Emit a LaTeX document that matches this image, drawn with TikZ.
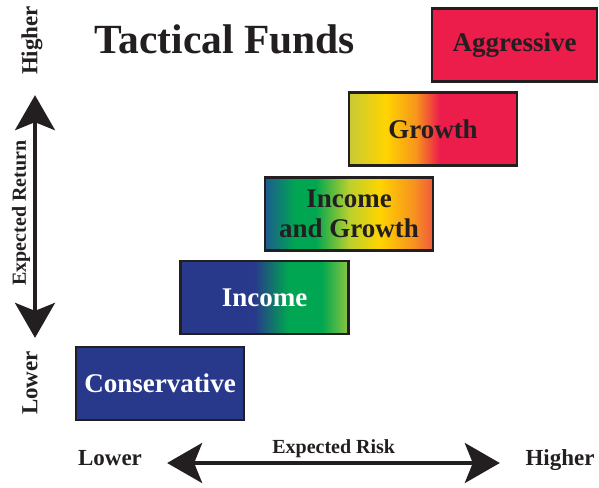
\documentclass[tikz,border=0pt]{standalone}
\usepackage{fontspec}
\setmainfont{Liberation Serif}
\usepackage{tikz}
\usetikzlibrary{positioning, arrows.meta}

\definecolor{ink}{HTML}{231F20}
\definecolor{consblue}{RGB}{40,57,140}
\definecolor{fundteal}{RGB}{28,92,142}
\definecolor{fundgreen}{RGB}{0,166,81}
\definecolor{limegreen}{RGB}{140,198,62}
\definecolor{yellowgreen}{RGB}{185,208,45}
\definecolor{oldgold}{RGB}{200,202,52}
\definecolor{fundyellow}{RGB}{255,212,0}
\definecolor{fundorange}{RGB}{247,148,29}
\definecolor{redorange}{RGB}{241,90,60}
\definecolor{crimson}{RGB}{236,28,75}

% horizontal shadings, the box spans 25bp to 75bp
\pgfdeclarehorizontalshading{incomeshade}{100bp}{color(0bp)=(consblue); color(25bp)=(consblue);
  color(47bp)=(consblue); color(57bp)=(fundgreen); color(67bp)=(fundgreen);
  color(75bp)=(limegreen); color(100bp)=(limegreen)}
\pgfdeclarehorizontalshading{mixshade}{100bp}{color(0bp)=(fundteal); color(25bp)=(fundteal);
  color(34bp)=(fundgreen); color(40bp)=(fundgreen); color(50bp)=(yellowgreen);
  color(59bp)=(fundyellow); color(69bp)=(fundorange); color(75bp)=(redorange); color(100bp)=(redorange)}
\pgfdeclarehorizontalshading{growthshade}{100bp}{color(0bp)=(oldgold); color(25bp)=(oldgold);
  color(36bp)=(fundyellow); color(45bp)=(fundorange); color(52bp)=(crimson);
  color(75bp)=(crimson); color(100bp)=(crimson)}

\begin{document}
\begin{tikzpicture}[x=1pt, y=-1pt,
  fund/.style={draw=ink, line width=2.4pt, minimum width=168pt, minimum height=73pt,
    inner sep=0pt, align=center, text=ink, font=\fontsize{27}{30}\selectfont\bfseries},
  axlab/.style={inner sep=0pt, text=ink, text height=0.7em, text depth=0.25em,
    font=\fontsize{23}{23}\selectfont\bfseries},
  axname/.style={inner sep=3pt, text=ink, font=\fontsize{20}{20}\selectfont\bfseries},
  axarrow/.style={{Stealth[length=35pt, width=40pt, inset=8pt]}-{Stealth[length=35pt, width=40pt, inset=8pt]},
    line width=3.5pt, draw=ink}]
\useasboundingbox (0,0) rectangle (599,487);

% Title
\node[anchor=base, text=ink, font=\fontsize{41.5}{41.5}\selectfont\bfseries] (title) at (225,54) {Tactical Funds};

% Define the fund boxes, lowest risk first
\node[fund, fill=consblue, text=white] (cons) at (160,383.5) {Conservative};
\node[fund, shading=incomeshade, text=white] (income) at (264.5,297.5) {Income};
\node[fund, shading=mixshade] (mix) at (349,214) {Income\\and Growth};
\node[fund, shading=growthshade] (growth) at (433,129) {Growth};
\node[fund, fill=crimson, minimum width=165pt] (aggr) at (514.5,45) {Aggressive};

% Return axis
\node[axlab, rotate=90] (retlo) at (35,383) {Lower};
\node[axlab, rotate=90] (rethi) at (35,40.5) {Higher};
\draw[axarrow, shorten <=13pt, shorten >=20pt] (retlo) -- node[axname, above, sloped] {Expected Return} (rethi);

% Risk axis
\node[axlab] (risklo) at (110,463) {Lower};
\node[axlab] (riskhi) at (560,463) {Higher};
\draw[axarrow, shorten <=25pt, shorten >=25.5pt] (risklo) -- node[axname, above] {Expected Risk} (riskhi);
\end{tikzpicture}
\end{document}
